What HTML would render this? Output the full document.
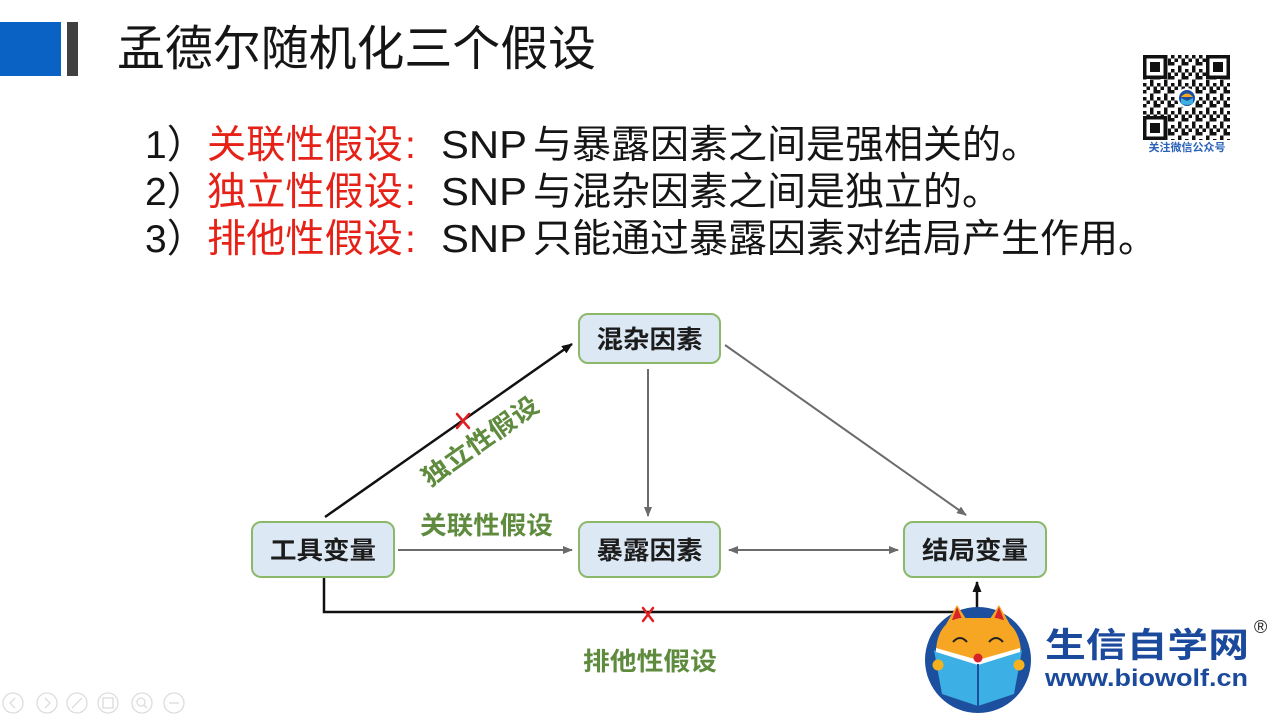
<!DOCTYPE html>
<html><head><meta charset="utf-8"><style>
html,body{margin:0;padding:0;background:#fff;}
body{width:1280px;height:720px;overflow:hidden;}
svg{display:block;}
text{font-family:"Liberation Sans","Noto Sans CJK SC",sans-serif;}
</style></head><body>
<svg width="1280" height="720" viewBox="0 0 1280 720" xmlns="http://www.w3.org/2000/svg">
<defs>
 <marker id="ab" markerUnits="userSpaceOnUse" markerWidth="11" markerHeight="9" refX="10" refY="4.5" orient="auto"><path d="M0,0 L11,4.5 L0,9 z" fill="#111"/></marker>
 <marker id="ag" markerUnits="userSpaceOnUse" markerWidth="10" markerHeight="8" refX="9" refY="4" orient="auto-start-reverse"><path d="M0,0 L10,4 L0,8 z" fill="#6b6b6b"/></marker>
 <pattern id="qr" width="14" height="14" patternUnits="userSpaceOnUse" x="1143" y="55">
  <rect x="0" y="0" width="3.5" height="3.5" fill="#111"/>
  <rect x="7" y="0" width="3.5" height="3.5" fill="#111"/>
  <rect x="3.5" y="3.5" width="3.5" height="3.5" fill="#111"/>
  <rect x="10.5" y="3.5" width="3.5" height="7" fill="#111"/>
  <rect x="0" y="7" width="3.5" height="3.5" fill="#111"/>
  <rect x="7" y="10.5" width="3.5" height="3.5" fill="#111"/>
 </pattern>
</defs>

<!-- header -->
<rect x="0" y="22" width="61" height="54" fill="#0a63c4"/>
<rect x="67" y="22" width="11" height="54" fill="#404040"/>
<text x="117" y="65" font-size="48" fill="#151515" textLength="479" lengthAdjust="spacingAndGlyphs">孟德尔随机化三个假设</text>

<!-- list -->
<g font-size="39">
 <text x="145" y="158" fill="#151515">1）</text>
 <text x="207" y="158" fill="#e62117" textLength="196" lengthAdjust="spacingAndGlyphs">关联性假设</text>
 <text x="405" y="158" fill="#e62117">:</text>
 <text x="441" y="158" fill="#151515" textLength="86" lengthAdjust="spacingAndGlyphs">SNP</text>
 <text x="533" y="158" fill="#151515" textLength="507" lengthAdjust="spacingAndGlyphs">与暴露因素之间是强相关的。</text>

 <text x="145" y="205" fill="#151515">2）</text>
 <text x="207" y="205" fill="#e62117" textLength="196" lengthAdjust="spacingAndGlyphs">独立性假设</text>
 <text x="405" y="205" fill="#e62117">:</text>
 <text x="441" y="205" fill="#151515" textLength="86" lengthAdjust="spacingAndGlyphs">SNP</text>
 <text x="533" y="205" fill="#151515" textLength="468" lengthAdjust="spacingAndGlyphs">与混杂因素之间是独立的。</text>

 <text x="145" y="252" fill="#151515">3）</text>
 <text x="207" y="252" fill="#e62117" textLength="196" lengthAdjust="spacingAndGlyphs">排他性假设</text>
 <text x="405" y="252" fill="#e62117">:</text>
 <text x="441" y="252" fill="#151515" textLength="86" lengthAdjust="spacingAndGlyphs">SNP</text>
 <text x="533" y="252" fill="#151515" textLength="624" lengthAdjust="spacingAndGlyphs">只能通过暴露因素对结局产生作用。</text>
</g>

<!-- QR -->
<rect x="1143" y="55" width="87" height="85" fill="url(#qr)"/>
<g>
 <rect x="1143" y="55" width="24" height="24" fill="#111"/><rect x="1146.5" y="58.5" width="17" height="17" fill="#fff"/><rect x="1150" y="62" width="10" height="10" fill="#111"/>
 <rect x="1206" y="55" width="24" height="24" fill="#111"/><rect x="1209.5" y="58.5" width="17" height="17" fill="#fff"/><rect x="1213" y="62" width="10" height="10" fill="#111"/>
 <rect x="1143" y="116" width="24" height="24" fill="#111"/><rect x="1146.5" y="119.5" width="17" height="17" fill="#fff"/><rect x="1150" y="123" width="10" height="10" fill="#111"/>
 <circle cx="1187" cy="98" r="10" fill="#fff"/>
 <circle cx="1187" cy="98" r="8" fill="#1d4f9f"/>
 <path d="M1181,97 Q1187,90 1193,97 z" fill="#f6a623"/>
 <path d="M1181,98 L1187,101 L1193,98 L1193,104 L1187,105 L1181,104 z" fill="#3cb0e4"/>
</g>
<text x="1187" y="151" font-size="11" font-weight="bold" fill="#2a62b8" text-anchor="middle" textLength="77" lengthAdjust="spacingAndGlyphs">关注微信公众号</text>

<!-- connectors -->
<line x1="325" y1="517" x2="572" y2="344" stroke="#111" stroke-width="2.5" marker-end="url(#ab)"/>
<line x1="398" y1="550" x2="572" y2="550" stroke="#6b6b6b" stroke-width="2" marker-end="url(#ag)"/>
<line x1="648" y1="369" x2="648" y2="516" stroke="#6b6b6b" stroke-width="2" marker-end="url(#ag)"/>
<line x1="725" y1="345" x2="966" y2="515" stroke="#6b6b6b" stroke-width="2" marker-end="url(#ag)"/>
<line x1="729" y1="550" x2="898" y2="550" stroke="#6b6b6b" stroke-width="2" marker-start="url(#ag)" marker-end="url(#ag)"/>
<polyline points="324,577 324,612 977,612 977,582" fill="none" stroke="#111" stroke-width="2.5" marker-end="url(#ab)"/>

<!-- red X marks -->
<g stroke="#e02020" stroke-width="2.5" stroke-linecap="round">
 <line x1="457" y1="414" x2="469" y2="428"/><line x1="469" y1="414" x2="457" y2="428"/>
 <line x1="643" y1="608" x2="653" y2="621"/><line x1="653" y1="608" x2="643" y2="621"/>
</g>

<!-- boxes -->
<g fill="#dce9f5" stroke="#8cb86a" stroke-width="2">
 <rect x="579" y="314" width="141" height="49" rx="9"/>
 <rect x="252" y="522" width="142" height="55" rx="9"/>
 <rect x="579" y="522" width="141" height="55" rx="9"/>
 <rect x="904" y="522" width="142" height="55" rx="9"/>
</g>
<g font-size="25" font-weight="bold" fill="#1c1c1c" text-anchor="middle">
 <text x="649.5" y="348" textLength="106" lengthAdjust="spacingAndGlyphs">混杂因素</text>
 <text x="323" y="559" textLength="106" lengthAdjust="spacingAndGlyphs">工具变量</text>
 <text x="649.5" y="559" textLength="106" lengthAdjust="spacingAndGlyphs">暴露因素</text>
 <text x="975" y="559" textLength="106" lengthAdjust="spacingAndGlyphs">结局变量</text>
</g>

<!-- green labels -->
<g font-size="25" font-weight="bold" fill="#5f8b3e">
 <text x="420" y="534" textLength="133" lengthAdjust="spacingAndGlyphs">关联性假设</text>
 <text x="583" y="670" textLength="134" lengthAdjust="spacingAndGlyphs">排他性假设</text>
 <text x="480" y="450" text-anchor="middle" transform="rotate(-35 480 441)" textLength="136" lengthAdjust="spacingAndGlyphs">独立性假设</text>
</g>

<!-- logo -->
<g>
 <circle cx="978" cy="660" r="53" fill="#1d4f9f"/>
 <path d="M944,628 L957,605 L968,622 z" fill="#f6a623"/>
 <path d="M988,622 L999,605 L1012,628 z" fill="#f6a623"/>
 <path d="M952,620 L957,607 L962,619 z" fill="#d8232a"/>
 <path d="M994,619 L999,607 L1004,620 z" fill="#d8232a"/>
 <path d="M936,650 Q938,622 960,618 L996,618 Q1018,622 1021,650 Q1000,662 978,660 Q956,662 936,650 z" fill="#f6a623"/>
 <path d="M953,642 Q960,634 967,642" fill="none" stroke="#222" stroke-width="2"/>
 <path d="M989,642 Q996,634 1003,642" fill="none" stroke="#222" stroke-width="2"/>
 <path d="M934,650 L978,664 L978,706 L942,694 z" fill="#3cb0e4"/>
 <path d="M1022,650 L978,664 L978,706 L1014,694 z" fill="#3cb0e4"/>
 <path d="M936,648 L978,660 L1020,648 L1020,652 L978,665 L936,652 z" fill="#fff"/>
 <line x1="978" y1="664" x2="978" y2="706" stroke="#1d4f9f" stroke-width="2"/>
 <circle cx="978" cy="658" r="4.5" fill="#d8232a"/>
 <circle cx="938" cy="665" r="5.5" fill="#f6b21d"/>
 <circle cx="1019" cy="665" r="5.5" fill="#f6b21d"/>
</g>
<text transform="translate(1045,657) scale(1.2,1)" font-size="34" font-weight="bold" fill="#1b4a9c" textLength="170" lengthAdjust="spacingAndGlyphs">生信自学网</text>
<text x="1045" y="686" font-size="24" font-weight="bold" fill="#1b4a9c" textLength="203" lengthAdjust="spacingAndGlyphs">www.biowolf.cn</text>
<text x="1254" y="633" font-size="18" fill="#222">®</text>

<!-- bottom nav icons -->
<g fill="none" stroke="#dcdcdc" stroke-width="1.3">
 <circle cx="13" cy="703" r="10"/><circle cx="47" cy="703" r="10"/><circle cx="77" cy="703" r="10"/>
 <circle cx="108" cy="703" r="10"/><circle cx="142" cy="703" r="10"/><circle cx="174" cy="703" r="10"/>
 <path d="M15,698 L10,703 L15,708"/><path d="M45,698 L50,703 L45,708"/>
 <line x1="72" y1="708" x2="82" y2="698"/><rect x="103" y="698" width="10" height="10"/>
 <circle cx="141" cy="702" r="4"/><line x1="144" y1="705" x2="147" y2="708"/>
 <line x1="169" y1="703" x2="179" y2="703"/>
</g>
</svg>
</body></html>
